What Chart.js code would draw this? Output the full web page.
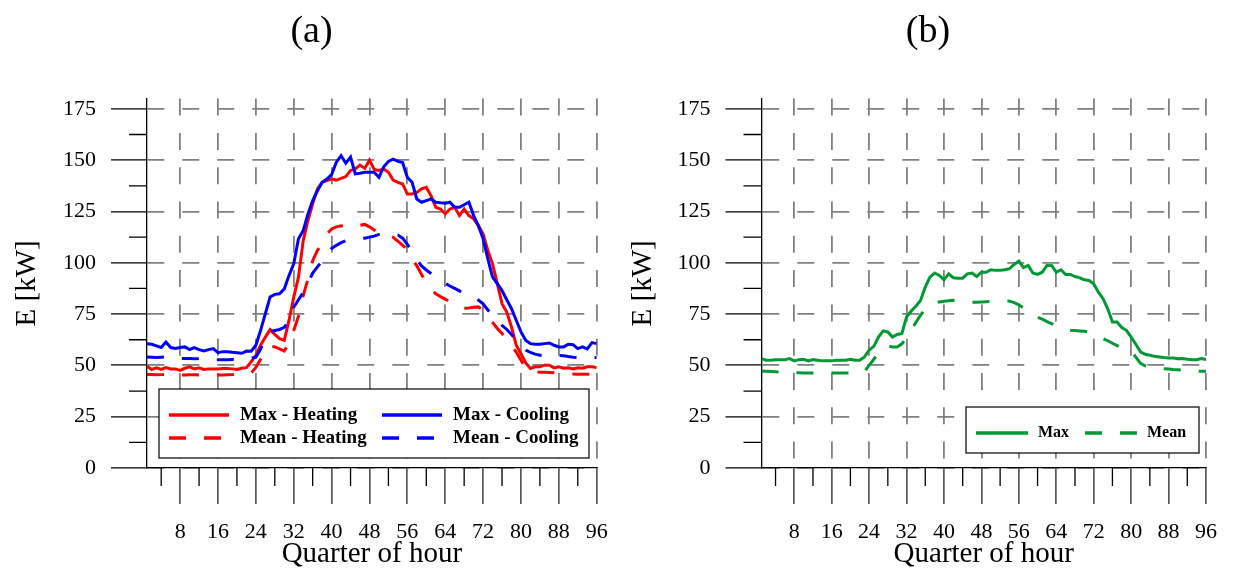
<!DOCTYPE html>
<html>
<head>
<meta charset="utf-8">
<script src="https://cdn.jsdelivr.net/npm/chart.js@4.4.0/dist/chart.umd.min.js"></script>
<style>
  html, body { margin: 0; padding: 0; background: #fff; overflow: hidden; }
  #wrap { position: relative; width: 1233px; height: 570px; }
  canvas { position: absolute; top: 0; }
  #chartA { left: 0; }
  #chartB { left: 616px; }
</style>
</head>
<body>
<div id="wrap">
  <canvas id="chartA" width="640" height="570"></canvas>
  <canvas id="chartB" width="617" height="570"></canvas>
</div>
<script>
"use strict";

// quarter of hour index
const quarters = [1, 2, 3, 4, 5, 6, 7, 8, 9, 10, 11, 12, 13, 14, 15, 16, 17, 18, 19, 20,
  21, 22, 23, 24, 25, 26, 27, 28, 29, 30, 31, 32, 33, 34, 35, 36, 37, 38, 39, 40,
  41, 42, 43, 44, 45, 46, 47, 48, 49, 50, 51, 52, 53, 54, 55, 56, 57, 58, 59, 60,
  61, 62, 63, 64, 65, 66, 67, 68, 69, 70, 71, 72, 73, 74, 75, 76, 77, 78, 79, 80,
  81, 82, 83, 84, 85, 86, 87, 88, 89, 90, 91, 92, 93, 94, 95, 96];

const xTicks = [8, 16, 24, 32, 40, 48, 56, 64, 72, 80, 88, 96];
const xMinorTicks = [4, 12, 20, 28, 36, 44, 52, 60, 68, 76, 84, 92];
const yTicks = [0, 25, 50, 75, 100, 125, 150, 175];
const yMinorTicks = [12.5, 37.5, 62.5, 87.5, 112.5, 137.5, 162.5];

// (a)
const maxHeating = [49.6, 48, 48.8, 48, 48.9, 48.3, 48.3, 47.6, 48.6, 49.3, 48.3, 48.8, 48, 48.3, 48.3, 48.3,
  48.5, 48.5, 48.3, 48, 48.6, 48.9, 51.7, 54.9, 59.8, 63.8, 67.4, 65.1, 63, 62.2, 71.9, 83.3,
  93, 110.8, 120.6, 128.7, 136, 139.2, 140, 140.8, 140.3, 141.1, 142, 144.9, 145.7, 147.6, 146, 150,
  145.5, 145, 145.7, 144.1, 140.3, 139.2, 138.4, 133.5, 133.5, 134.3, 136, 136.8, 132.7, 127, 126.2, 123.8,
  126.2, 127, 123, 126.2, 123, 121.4, 118.1, 114.1, 106, 99.5, 89.8, 80.1, 76, 68.7, 59.8, 55.7,
  51.2, 48.5, 49.3, 49.3, 50.1, 50.1, 48.8, 49.3, 48.6, 48.8, 48.3, 48.8, 48.6, 49.3, 49.3, 48.9];

const meanHeating = [45.5, 45.5, 45.4, 45.5, 45.6, 45.5, 45.4, 45.3, 45.3, 45.4, 45.4, 45.3, 45.4, 45.5, 45.4, 45.3,
  45.3, 45.4, 45.5, 45.6, 45.7, 45.8, 46.2, 49, 53, 57, 59.5, 59, 58, 57, 61, 67,
  74, 84, 92, 101, 106, 109.5, 114, 116.5, 117.5, 118, 117.5, 117, 117.5, 118.3, 118.7, 117.5,
  116, 114.5, 113.3, 113, 112.4, 110.5, 108.5, 106.5, 102, 98.5, 94.3, 90, 87, 84.9, 83.5, 82.3,
  81, 79.5, 78.3, 77.8, 78, 78.3, 78.5, 77, 74, 71, 68, 65.5, 62.5, 59.5, 56.5, 52.5,
  48.5, 47, 46.8, 46.7, 46.6, 46.5, 46.4, 46.2, 46, 45.9, 45.8, 45.7, 45.7, 45.7, 45.7, 45.7];

const maxCooling = [60.6, 60.3, 59.5, 58.7, 61.4, 58.7, 58.2, 58.7, 59, 57.7, 58.7, 57.7, 57, 57.7, 58.2, 56.2,
  56.7, 56.7, 56.4, 56.2, 55.9, 57, 56.9, 59.8, 67.1, 75.2, 83.3, 84.6, 84.9, 87.3, 93.8, 99.5,
  111.7, 115.7, 123.8, 130.3, 135.1, 139.2, 140.8, 143, 149, 152.2, 148.5, 151.5, 143.3, 143.6, 144.1, 144.1,
  144.1, 141.6, 146.8, 149.4, 150.5, 149.4, 148.9, 141.6, 139.2, 131.1, 129.5, 130.3, 131.1, 129.5, 129.2, 129,
  129.5, 127, 127, 128.3, 129.5, 123, 118.1, 111.7, 101.9, 93, 89.8, 86.5, 82, 77.6, 72, 66.3,
  62.2, 60.6, 60.3, 60.3, 60.6, 60.9, 59.8, 59, 59, 60.3, 60.1, 58.2, 59, 58, 61.1, 60.6];

const meanCooling = [54.1, 54, 53.9, 54, 54.1, 53.8, 53.5, 53.4, 53.3, 53.3, 53.2, 53.3, 53.1, 52.9, 52.8, 52.8,
  52.7, 52.8, 52.9, 53, 53, 53.2, 53.5, 54, 58, 63, 66.5, 67, 67.5, 68.5, 72, 78.4,
  82, 85.5, 90, 95, 98, 101, 104.5, 107, 108.5, 109.8, 110.8, 111.3, 111.6, 111.8, 112, 112.5,
  113, 113.8, 114, 114, 113.8, 113.5, 112, 109, 105.5, 101.5, 98.5, 96.5, 94.8, 93, 91.5, 90,
  88.7, 87.5, 86.3, 85, 84, 83, 81.8, 80, 77, 74.5, 72, 69.5, 67.5, 65, 62.5, 60,
  57.5, 56.3, 55.5, 55, 55, 55, 55, 54.9, 54.7, 54.3, 54, 53.8, 53.8, 53.8, 53.8, 53.8];

// (b)
const maxTotal = [53.3, 52.5, 52.5, 52.8, 52.8, 52.8, 53.3, 52.2, 52.8, 53, 52.2, 52.8, 52.5, 52.2, 52.2, 52.2,
  52.5, 52.5, 52.5, 53, 52.5, 52.5, 54.1, 57.4, 59.3, 63.8, 66.8, 66.3, 63.8, 65.1, 65.5, 73.6,
  76.5, 78.8, 81.7, 88.2, 93, 95, 93.8, 91.7, 94.6, 92.7, 92.5, 92.5, 94.6, 95, 93.3, 95.4,
  95.4, 96.6, 96.3, 96.3, 96.6, 97.1, 99.2, 100.8, 97.6, 98.7, 95, 94.3, 95.4, 98.7, 98.7, 95.4,
  96.6, 94.3, 94.3, 93.3, 92.7, 91.7, 91.4, 89.8, 85.7, 82.5, 77.6, 71.1, 71.1, 68.4, 67.1, 63.8,
  60.3, 56.6, 55.4, 54.9, 54.4, 54.1, 53.8, 53.6, 53.6, 53.2, 53.3, 53, 52.8, 52.8, 53.3, 52.8];

const meanTotal = [47.2, 47.1, 47, 46.9, 46.8, 46.7, 46.6, 46.5, 46.4, 46.3, 46.3, 46.3, 46.3, 46.3, 46.3, 46.3,
  46.3, 46.3, 46.3, 46.3, 46.3, 46.3, 47, 50, 53, 56, 58.5, 59.5, 59, 59, 60.5, 63.5,
  67, 71, 74.5, 77.5, 79.5, 80.5, 80.9, 81.2, 81.5, 81.7, 81.5, 81.2, 81, 80.8, 80.8, 80.9,
  81, 81.1, 81.2, 81.4, 81.6, 81.3, 80.6, 79.5, 78, 76.3, 74.6, 73.5, 72.5, 71.3, 70.3, 69.2,
  68.2, 67.4, 67.1, 67, 66.8, 66.6, 66.2, 65.3, 64.2, 63, 62, 60.8, 59.6, 58.5, 57.5, 57,
  54, 51, 49.8, 49, 48.7, 48.5, 48.4, 48.2, 48, 47.9, 47.7, 47.5, 47.3, 47.2, 47.2, 47.2];

const serif = '"Liberation Serif", "Times New Roman", serif';
Chart.defaults.font.family = serif;
Chart.defaults.color = "#000";

const DASH = [17, 18];

// short ticks between the labelled ones
const minorTicks = {
  id: "minorTicks",
  beforeDatasetsDraw(chart) {
    const { ctx, chartArea, scales } = chart;
    ctx.save();
    ctx.strokeStyle = "#000";
    ctx.lineWidth = 1.3;
    ctx.beginPath();
    yMinorTicks.forEach((v) => {
      const y = scales.y.getPixelForValue(v);
      ctx.moveTo(chartArea.left - 18, y);
      ctx.lineTo(chartArea.left, y);
    });
    xMinorTicks.forEach((v) => {
      const x = scales.x.getPixelForValue(v);
      ctx.moveTo(x, chartArea.bottom);
      ctx.lineTo(x, chartArea.bottom + 18);
    });
    ctx.stroke();
    ctx.restore();
  },
};

// panel title, "(a)" / "(b)"
const panelTitle = {
  id: "panelTitle",
  afterDraw(chart, args, o) {
    const ctx = chart.ctx;
    ctx.save();
    ctx.font = o.size + "px " + serif;
    ctx.fillStyle = "#000";
    ctx.textAlign = "center";
    ctx.textBaseline = "middle";
    ctx.fillText(o.text, o.x, o.y);
    ctx.restore();
  },
};

// boxed legend inside the plot
const boxLegend = {
  id: "boxLegend",
  afterDatasetsDraw(chart, args, o) {
    const ctx = chart.ctx;
    ctx.save();
    ctx.fillStyle = "#fff";
    ctx.fillRect(o.x, o.y, o.w, o.h);
    ctx.strokeStyle = "#000";
    ctx.lineWidth = 1.2;
    ctx.strokeRect(o.x, o.y, o.w, o.h);
    ctx.font = "bold " + o.size + "px " + serif;
    ctx.textBaseline = "middle";
    chart.data.datasets.forEach((ds, i) => {
      const it = o.items[i];
      const x0 = o.x + it[0];
      const y0 = o.y + it[1];
      ctx.strokeStyle = ds.borderColor;
      ctx.lineWidth = 3.5;
      ctx.setLineDash(ds.borderDash || []);
      ctx.beginPath();
      ctx.moveTo(x0, y0);
      ctx.lineTo(x0 + o.len, y0);
      ctx.stroke();
      ctx.setLineDash([]);
      ctx.fillStyle = "#000";
      ctx.fillText(ds.label, x0 + o.len + o.gap, y0);
    });
    ctx.restore();
  },
};

function makeChart(el, title, datasets, yWidth, padRight, legend) {
  return new Chart(el, {
    type: "line",
    data: { labels: quarters, datasets: datasets },
    plugins: [minorTicks, boxLegend, panelTitle],
    options: {
      responsive: false,
      animation: false,
      devicePixelRatio: 1,
      layout: { padding: { left: 0, right: padRight, top: 98.6, bottom: 0 } },
      elements: { point: { radius: 0 }, line: { borderWidth: 3, tension: 0 } },
      plugins: {
        legend: { display: false },
        tooltip: { enabled: false },
        title: { display: false },
        panelTitle: title,
        boxLegend: legend,
      },
      scales: {
        x: {
          type: "linear",
          min: 1,
          max: 96,
          afterBuildTicks: (s) => { s.ticks = xTicks.map((v) => ({ value: v })); },
          afterFit: (s) => { s.height = 102; },
          grid: { color: "#808080", lineWidth: 1.8, tickLength: 36, tickColor: "#222", tickWidth: 1.3 },
          border: { color: "#000", width: 1.3, dash: [17, 17.3] },
          ticks: { font: { size: 22 }, padding: 15, maxRotation: 0, autoSkip: false, color: "#000" },
          title: { display: true, text: "Quarter of hour", font: { size: 29, lineHeight: 1.05 }, padding: { top: 0, bottom: 0 }, color: "#000" },
        },
        y: {
          min: 0,
          max: 180,
          afterBuildTicks: (s) => { s.ticks = yTicks.map((v) => ({ value: v })); },
          afterFit: (s) => { s.width = yWidth; },
          grid: { color: "#808080", lineWidth: 1.8, tickLength: 36, tickColor: "#000", tickWidth: 1.3 },
          border: { color: "#000", width: 1.3, dash: DASH },
          ticks: { font: { size: 22 }, padding: 15, color: "#000" },
          title: { display: true, text: "E [kW]", font: { size: 29 }, padding: { top: 10, bottom: 0 }, color: "#000" },
        },
      },
    },
  });
}

// canvas A is 640 wide and sits under canvas B; its plot ends at 596.7
makeChart(document.getElementById("chartA"), { text: "(a)", x: 311.5, y: 32.5, size: 38 }, [
  { label: "Max - Heating", data: maxHeating, borderColor: "#ff0000", order: 2 },
  { label: "Mean - Heating", data: meanHeating, borderColor: "#ff0000", borderDash: DASH, order: 3 },
  { label: "Max - Cooling", data: maxCooling, borderColor: "#0000ff", order: 0 },
  { label: "Mean - Cooling", data: meanCooling, borderColor: "#0000ff", borderDash: DASH, order: 1 },
], 147, 43.3, {
  x: 159, y: 389, w: 430, h: 69, size: 19, len: 60, gap: 11,
  items: [[10, 26], [10, 49], [223, 26], [223, 49]],
});

makeChart(document.getElementById("chartB"), { text: "(b)", x: 312, y: 32.5, size: 38 }, [
  { label: "Max", data: maxTotal, borderColor: "#009933" },
  { label: "Mean", data: meanTotal, borderColor: "#009933", borderDash: DASH },
], 145.5, 27, {
  x: 350, y: 407, w: 233, h: 46, size: 16, len: 52, gap: 10,
  items: [[10, 26], [119, 26]],
});
</script>
</body>
</html>
